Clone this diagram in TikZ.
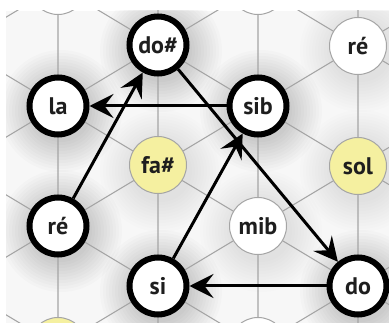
\documentclass[tikz,border=0pt]{standalone}
\usepackage{fontspec}
\setmainfont{PT Sans}
\usetikzlibrary{arrows.meta}

\definecolor{notefill}{RGB}{245,240,160}
\definecolor{gridline}{RGB}{165,165,165}
\definecolor{inkdark}{RGB}{30,30,30}
\definecolor{paper}{RGB}{247,247,247}

\tikzset{
  note/.style={circle, minimum size=57pt, inner sep=0pt,
               font=\fontsize{24}{24}\selectfont\bfseries, text=inkdark},
  chord/.style={note, draw=black, line width=6pt, fill=white},
  plain/.style={note, draw=gridline, line width=1pt, fill=white},
  marked/.style={plain, fill=notefill},
  grid/.style={draw=gridline, line width=1.1pt},
  move/.style={draw=black, line width=3pt,
               -{Stealth[length=24pt,width=24pt,inset=9pt]}},
}

\begin{document}
\begin{tikzpicture}[x=1pt,y=-1pt]
\useasboundingbox (0,0) rectangle (389,323);

\begin{scope}
  \clip (6,11) rectangle (389,323);
  \fill[paper] (6,11) rectangle (389,323);

  % soft halos under the circles
  \foreach \cx/\cy/\s in {158/46/1, 58/106/1, 258/106/1, 58/226/1, 158/286/1,
                          358/286/1, 158/166/0.5, 258/226/0.5, 358/46/0.5,
                          358/166/0.5}{
    \foreach \r in {31,34,...,61}{
      \fill[black, fill opacity=0.016*\s] (\cx+3,\cy+5) circle[radius=\r pt];
    }
  }

  % triangular lattice: vertical and both diagonal directions
  \foreach \i in {-1,...,4}{
    \foreach \j in {-3,...,5}{
      \pgfmathsetmacro\px{58+100*\i}
      \pgfmathsetmacro\py{106+120*\j-60*\i}
      \draw[grid] (\px,\py) -- ++(0,120)
                  (\px,\py) -- ++(100,-60)
                  (\px,\py) -- ++(100,60);
    }
  }

  % notes cut by the frame
  \node[plain]  (topa) at (58,-14) {};
  \node[plain]  (topb) at (258,-14) {};
  \node[marked] (bota) at (58,346) {};
  \node[plain]  (botb) at (258,346) {};

  % notes
  \node[chord]  (dos) at (158,45)  {do\#};
  \node[plain]  (reb) at (358,46)  {ré};
  \node[chord]  (la)  at (58,106)  {la};
  \node[chord]  (sib) at (258,106) {sib};
  \node[marked] (fas) at (158,165) {fa\#};
  \node[marked] (sol) at (358,166) {sol};
  \node[chord]  (rea) at (58,226)  {ré};
  \node[plain]  (mib) at (258,226) {mib};
  \node[chord]  (si)  at (158,286) {si};
  \node[chord]  (do)  at (358,286) {do};
\end{scope}

% moves between chords
\draw[move] (rea) -- (dos);
\draw[move] (sib) -- (la);
\draw[move] (dos) -- (do);
\draw[move] (si)  -- (sib);
\draw[move] (do)  -- (si);
\end{tikzpicture}
\end{document}
